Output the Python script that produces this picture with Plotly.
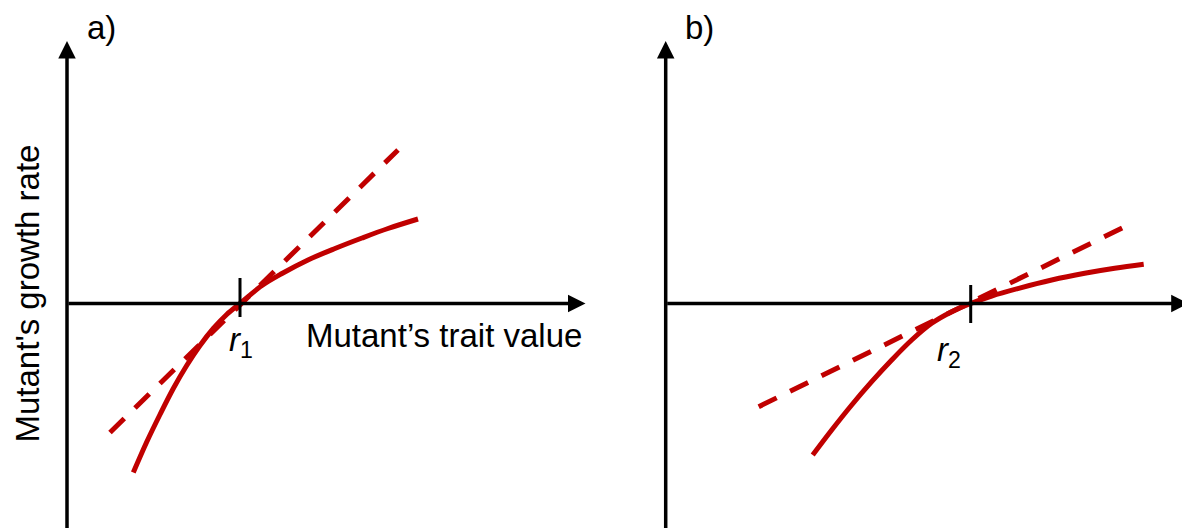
import plotly.graph_objects as go

# Panel a) -- fitness gradient at r1 (trait value vs growth rate)
a_trait = [0.663, 0.797, 0.93, 1.063, 1.197, 1.33, 1.463, 1.597, 1.73,
           1.95, 2.15, 2.41, 2.68, 2.95, 3.21, 3.51]
a_growth = [-1.69, -1.385, -1.11, -0.85, -0.62, -0.42, -0.25, -0.11, 0.0,
            0.18, 0.30, 0.435, 0.55, 0.655, 0.75, 0.845]
a_tangent_x = [0.43, 3.31]
a_tangent_y = [-1.29, 1.535]
r1 = 1.73

# Panel b) -- flatter curve at r2
b_trait = [1.47, 1.66, 1.86, 2.06, 2.26, 2.46, 2.66, 2.86, 3.05, 3.26, 3.53, 3.86, 4.19, 4.49, 4.78]
b_growth = [-1.515, -1.265, -1.015, -0.782, -0.565, -0.365, -0.198, -0.082,
            0.0, 0.075, 0.152, 0.235, 0.302, 0.352, 0.392]
b_tangent_x = [0.93, 4.59]
b_tangent_y = [-1.032, 0.768]
r2 = 3.05

RED = "#C00000"
FONT = "Arial, 'Liberation Sans', sans-serif"

fig = go.Figure()

for xs, ys, xa in [(a_trait, a_growth, "x"), (b_trait, b_growth, "x2")]:
    fig.add_trace(go.Scatter(
        x=xs, y=ys, xaxis=xa, yaxis="y" if xa == "x" else "y2",
        mode="lines", line=dict(color=RED, width=5, shape="spline"),
        showlegend=False, hoverinfo="skip",
    ))

for xs, ys, xa in [(a_tangent_x, a_tangent_y, "x"), (b_tangent_x, b_tangent_y, "x2")]:
    fig.add_trace(go.Scatter(
        x=xs, y=ys, xaxis=xa, yaxis="y" if xa == "x" else "y2",
        mode="lines", line=dict(color=RED, width=5, dash="20px,15px"),
        showlegend=False, hoverinfo="skip",
    ))

# Axis arrows drawn as annotations (tail -> head)
arrow = dict(showarrow=True, arrowhead=2, arrowsize=1.0, arrowwidth=3.5,
             arrowcolor="black", text="")
annotations = [
    dict(x=0, y=2.625, ax=0, ay=-2.3, xref="x", yref="y", axref="x", ayref="y", **arrow),
    dict(x=5.185, y=0, ax=0, ay=0, xref="x", yref="y", axref="x", ayref="y", **arrow),
    dict(x=0, y=2.625, ax=0, ay=-2.3, xref="x2", yref="y2", axref="x2", ayref="y2", **arrow),
    dict(x=5.23, y=0, ax=0, ay=0, xref="x2", yref="y2", axref="x2", ayref="y2", **arrow),
]

txt = dict(showarrow=False, font=dict(family=FONT, size=33, color="black"))
annotations += [
    dict(x=0.345, y=2.765, xref="x", yref="y", text="a)", **txt),
    dict(x=0.333, y=2.765, xref="x2", yref="y2", text="b)", **txt),
    dict(x=-0.40, y=0.10, xref="x", yref="y", text="Mutant's growth rate", textangle=-90, **txt),
    dict(x=2.37, y=-0.315, xref="x", yref="y", text="Mutant\u2019s trait value", xanchor="left", **txt),
    dict(x=1.74, y=-0.38, xref="x", yref="y", text="<i>r</i><sub>1</sub>", **txt),
    dict(x=2.83, y=-0.48, xref="x2", yref="y2", text="<i>r</i><sub>2</sub>", **txt),
]

shapes = [
    dict(type="line", xref="x", yref="y", x0=r1, x1=r1, y0=0.255, y1=-0.135,
         line=dict(color="black", width=3)),
    dict(type="line", xref="x2", yref="y2", x0=r2, x1=r2, y0=0.185, y1=-0.195,
         line=dict(color="black", width=3)),
]

hidden = dict(visible=False, showgrid=False, zeroline=False, fixedrange=True)

fig.update_layout(
    width=1182, height=528,
    margin=dict(l=0, r=0, t=0, b=0),
    paper_bgcolor="white", plot_bgcolor="white",
    xaxis=dict(domain=[0, 0.5], range=[-0.67, 5.24], **hidden),
    yaxis=dict(domain=[0, 1], range=[-2.245, 3.035], **hidden),
    xaxis2=dict(domain=[0.5, 1], range=[-0.747, 5.163], **hidden),
    yaxis2=dict(domain=[0, 1], range=[-2.245, 3.035], anchor="x2", **hidden),
    annotations=annotations,
    shapes=shapes,
    showlegend=False,
)

# drop the browser's default body margin so the figure sits at the page origin
fig.write_html("out.html", config={"displayModeBar": False},
               post_script="document.body.style.margin='0px';")
